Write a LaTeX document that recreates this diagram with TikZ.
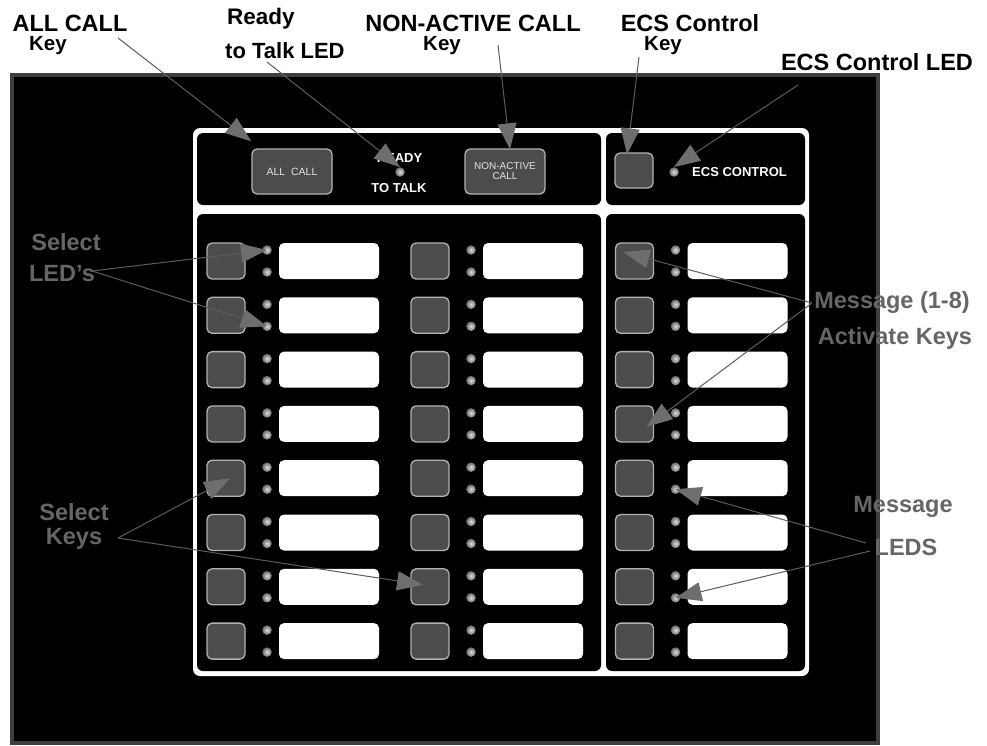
\documentclass[tikz,border=0pt]{standalone}
\usepackage{fontspec}
\setmainfont{Liberation Sans}
\usepackage{tikz}
\usetikzlibrary{arrows.meta,calc}
\definecolor{pnlrim}{RGB}{62,62,62}
\definecolor{keyfill}{RGB}{76,76,76}
\definecolor{keyedge}{RGB}{178,178,178}
\definecolor{keytxt}{RGB}{228,228,228}
\definecolor{lblgray}{RGB}{102,102,102}
\definecolor{calline}{RGB}{92,92,92}
\definecolor{calhead}{RGB}{110,110,110}
\tikzset{
  keybox/.style={draw=keyedge, line width=1.3pt, fill=keyfill, rounded corners=5pt, minimum width=38pt, minimum height=36pt, inner sep=0pt},
  bigkey/.style={keybox, minimum width=80pt, minimum height=45pt, align=center, text=keytxt},
  led/.style={circle, minimum size=9.5pt, inner sep=0pt, inner color=black!12, outer color=black!58},
  window/.style={fill=white, rounded corners=5pt, minimum width=100pt, minimum height=36pt, inner sep=0pt},
  ptxt/.style={text=white, font=\fontsize{13}{13}\selectfont\bfseries, inner sep=0pt, anchor=base},
  blabel/.style={font=\fontsize{23.5}{26}\selectfont\bfseries, inner sep=0pt, anchor=base},
  bkey/.style={font=\fontsize{20.5}{24}\selectfont\bfseries, inner sep=0pt, anchor=base},
  glabel/.style={blabel, text=lblgray},
  callout/.style={draw=calline, line width=1pt, -{Triangle[length=26pt,width=19pt,color=calhead]}},
}
\begin{document}
\begin{tikzpicture}[x=1pt,y=-1pt]
  \useasboundingbox (0,0) rectangle (987,745);
  % panel and frame
  \draw[draw=pnlrim, line width=4pt, fill=black] (12,75) rectangle (878,743);
  \fill[white, rounded corners=7pt] (193,128) rectangle (809,676);
  \fill[black, rounded corners=6pt] (197,133) rectangle (601,205);
  \fill[black, rounded corners=6pt] (606,133) rectangle (805,205);
  \fill[black, rounded corners=6pt] (197,214) rectangle (601,671);
  \fill[black, rounded corners=6pt] (606,214) rectangle (805,671);

  % key columns
  \foreach \col/\cx in {L/226,M/430,R/634.5} {
    \foreach \r in {1,...,8} {
      \pgfmathsetmacro{\cy}{261+54.3*(\r-1)}
      \node[keybox] (k\col\r) at (\cx,\cy) {};
      \node[led] (la\col\r) at (\cx+41,\cy-11) {};
      \node[led] (lb\col\r) at (\cx+41,\cy+11) {};
      \node[window] (w\col\r) at (\cx+103,\cy) {};
    }
  }

  % top row
  \node[bigkey, font=\fontsize{10.5}{11}\selectfont] (allcall) at (292,171.5) {ALL\ \ CALL};
  \node[bigkey, font=\fontsize{10}{10}\selectfont] (nakey) at (505,171.5) {NON-ACTIVE\\CALL};
  \node[keybox, minimum height=35pt] (ecskey) at (634,170.5) {};
  \node[led] (rttled) at (400,172) {};
  \node[ptxt] (rdytxt) at (399.5,162) {READY};
  \node[ptxt] (talktxt) at (399,192) {TO TALK};
  \node[led] (ecsled) at (674,172) {};
  \node[ptxt, anchor=west] (ecstxt) at (692,172) {ECS CONTROL};

  \coordinate (srcall) at (118,38);
  \coordinate (srcrdy) at (267,62);
  \coordinate (srcna) at (498,45);
  \coordinate (srcecs) at (639,57);
  \coordinate (srcecsled) at (798,85);
  \coordinate (srcselled) at (92,271);
  \coordinate (srcmsg) at (812,303);
  \coordinate (srcselkey) at (118,538);
  \coordinate (srcmled1) at (866,543);
  \coordinate (srcmled2) at (870,551);

  \draw[callout] (srcall) -- ($(allcall.north west)+(0,-7)$);
  \draw[callout] (srcrdy) -- (rttled.north);
  \draw[callout] (srcna) -- ($(nakey.north)+(5,1)$);
  \draw[callout] (srcecs) -- ($(ecskey.north)+(-7,2)$);
  \draw[callout] (srcecsled) -- (ecsled.north);
  \draw[callout] (srcselled) -- (laL1.center);
  \draw[callout] (srcselled) -- (lbL2.center);
  \draw[callout] (srcmsg) -- ($(kR1.center)+(-11,-9)$);
  \draw[callout] (srcmsg) -- ($(kR4.center)+(12,3)$);
  \draw[callout] (srcselkey) -- ($(kL5.center)+(4,0)$);
  \draw[callout] (srcselkey) -- ($(kM7.center)+(-7,-2)$);
  \draw[callout] (srcmled1) -- (lbR5.center);
  \draw[callout] (srcmled2) -- (lbR7.center);

  % labels
  \node[blabel] (lblall) at (70,31) {ALL CALL};
  \node[bkey] (lblallkey) at (48,50.5) {Key};
  \node[blabel, anchor=base west, font=\fontsize{22.5}{24}\selectfont\bfseries] (lblrdy) at (227,24) {Ready};
  \node[blabel, anchor=base west, font=\fontsize{22}{24}\selectfont\bfseries] (lbltalk) at (225,58) {to Talk LED};
  \node[blabel] (lblna) at (473,31) {NON-ACTIVE CALL};
  \node[bkey] (lblnakey) at (442,50.5) {Key};
  \node[blabel] (lblecs) at (690,31) {ECS Control};
  \node[bkey] (lblecskey) at (663,50.5) {Key};
  \node[blabel] (lblecsled) at (877,70) {ECS Control LED};

  \node[glabel] (lblsel1) at (66,250) {Select};
  \node[glabel] (lblsel2) at (62,281) {LED's};
  \node[glabel] (lblmsg1) at (892,308) {Message (1-8)};
  \node[glabel] (lblmsg2) at (895,344) {Activate Keys};
  \node[glabel] (lblkeys1) at (74,520) {Select};
  \node[glabel] (lblkeys2) at (74,544) {Keys};
  \node[glabel] (lblmled1) at (903,512) {Message};
  \node[glabel] (lblmled2) at (906,555) {LEDS};
\end{tikzpicture}
\end{document}
